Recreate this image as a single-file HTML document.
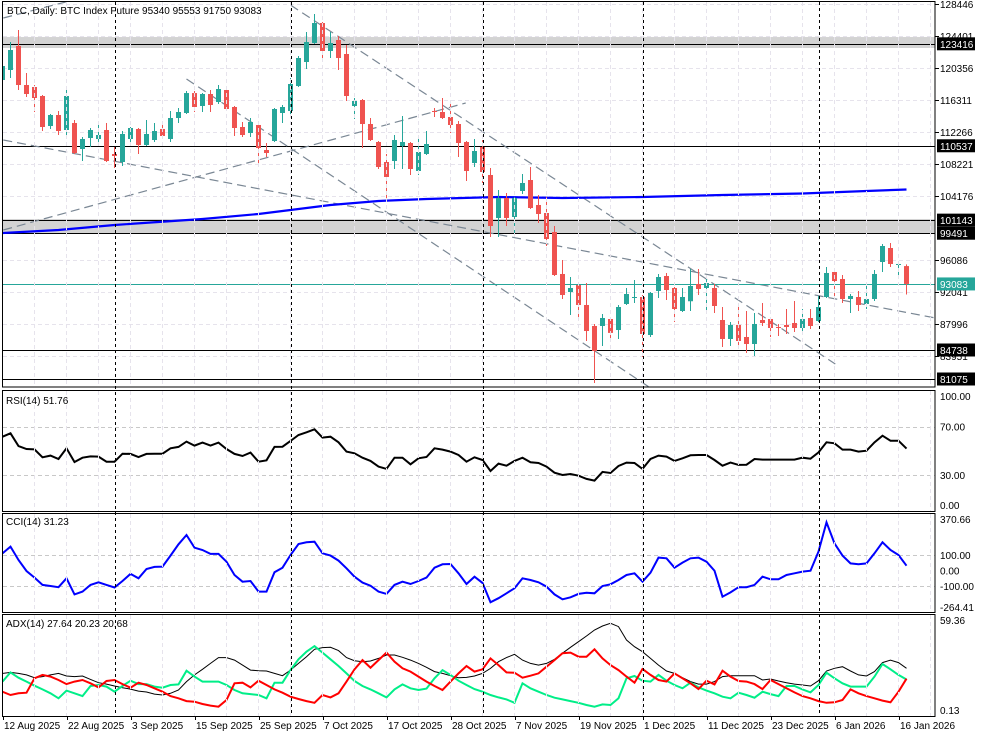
<!DOCTYPE html>
<html><head><meta charset="utf-8"><title>BTC Daily</title>
<style>
html,body{margin:0;padding:0;background:#fff;}
#wrap{position:relative;width:983px;height:737px;overflow:hidden;}
svg text{font-family:"Liberation Sans",sans-serif;font-size:10px;}
</style></head>
<body>
<div id="wrap">
<svg id="chart" width="983" height="737" viewBox="0 0 983 737" xmlns="http://www.w3.org/2000/svg"></svg>
</div>
<script>
const opens=[118845,120109,123140,118213,117961,116824,113034,114424,112529,113414,110129,111519,111392,112529,109498,108487,111392,112656,110635,111266,112656,111392,114045,114677,117198,115561,117077,116066,117582,115435,112908,112150,113161,110003,111140,114677,114930,118087,121119,123519,126045,122509,123898,122130,115561,116319,113287,111014,108487,108613,110508,110887,107350,109498,114930,114803,114172,113287,111014,108361,110382,106845,101414,103940,101540,104824,106213,103056,102045,99645,94340,92066,92950,90424,87771,87771,88655,87265,90550,91308,91434,86634,92192,94087,92571,89666,90897,93076,92571,92571,88529,86129,87902,86381,85497,88529,88655,87645,87898,88150,87518,88782,88403,91434,94592,93708,91182,91434,90550,91182,95855,97624,95476,95340];
const highs=[120867,123645,125161,119730,118213,116950,114551,114930,117582,113793,111645,112782,113540,113414,110382,112403,112908,112782,113793,113414,113666,114930,115308,117456,117456,117198,117582,118213,117708,115561,113540,114045,113287,110887,115308,115687,119098,121877,124908,127183,126172,124908,124403,123267,116572,116446,114045,111140,109498,111898,114298,111014,111519,112403,115308,116572,116319,113666,111140,111392,111266,107730,104950,104571,104066,106971,107856,104319,104066,100402,96108,93960,93203,93203,88024,89287,88908,90424,92571,93581,91687,92066,94340,94466,92697,92571,94971,94971,93960,93076,90171,88276,90676,89666,89413,90676,88655,88024,89918,90929,89918,89918,91561,95224,94845,94213,91813,92192,92824,94845,98129,98255,95982,95553];
const lows=[118592,119098,117582,116698,114803,112403,112656,111898,111645,109498,108613,110382,110887,108487,107730,107982,110887,109498,110508,111014,111645,111014,113414,114551,114803,114803,114803,115813,114930,111771,111645,111645,108361,109119,111014,113414,114424,117961,120235,123393,121245,121624,120109,116193,113919,110256,111140,107603,103687,107603,107603,106845,106845,109372,114172,113919,112150,109119,106087,107856,105834,99013,99013,100402,99392,104445,102550,100782,97876,94087,91182,89160,88403,85876,80571,85245,86002,86129,90424,90676,83855,86381,91308,91055,88276,89540,89666,91687,89287,89413,85118,85245,85245,84360,83981,87771,86381,86508,86760,87013,86886,87392,88276,91308,91182,90676,89413,89666,89918,90929,94592,95224,94213,91750];
const closes=[120614,122635,118213,117077,116572,112908,114424,112403,116824,109624,111392,112529,111898,108613,109245,112024,112782,110635,112024,112403,111771,114045,114803,117198,115435,117077,115687,117708,115182,112782,111898,113540,110256,109624,115182,115435,118340,121624,123645,126045,122509,123519,121624,116824,116193,113287,111266,107856,106592,111266,111014,107603,109750,110761,114803,114045,113161,110887,107350,109877,107224,100402,103940,101414,103940,105834,102676,101919,98760,94213,91687,92571,90424,87139,84613,88782,86897,90171,91813,91434,86760,91940,93960,92318,89918,91434,92824,92445,93203,90297,86129,87902,85876,85497,88024,88150,87518,87518,87645,87518,88655,87771,90171,94466,93455,91182,91561,90424,91182,94340,97876,95603,95603,93083];
const maBars=[0,7,14,25,32,36,41,47,53,62,70,80,90,100,108,113];
const maValues=[99523,99897,100530,101290,101921,102424,103056,103560,103813,104066,103940,104066,104319,104508,104824,105013];
const rsiValues=[61.7,64.5,54.0,51.5,51.2,44.6,46.0,43.2,52.1,40.7,44.3,45.4,45.2,41.0,41.0,47.6,47.4,44.9,47.4,47.6,47.6,52.1,53.2,57.6,54.3,56.8,54.3,56.8,51.5,47.4,45.7,48.5,41.0,42.1,53.2,53.4,58.1,63.1,65.3,67.8,60.9,61.7,57.0,49.3,47.9,44.3,41.6,36.9,35.0,44.3,44.3,38.8,43.8,44.9,52.1,51.0,49.3,46.5,41.0,44.6,42.4,33.3,39.4,37.7,41.6,44.3,40.5,39.9,36.9,31.9,30.0,30.8,29.4,26.7,25.3,32.5,31.6,37.4,40.2,39.9,35.0,43.2,46.0,45.2,41.6,43.8,46.3,46.5,46.5,42.4,37.7,40.2,38.3,38.5,43.2,42.7,42.7,42.7,42.7,42.7,44.3,43.5,48.7,57.0,56.2,51.0,51.0,49.3,50.1,57.0,62.5,58.4,58.4,51.8];
const cciValues=[111,154,68,-3,-46,-93,-100,-108,-50,-154,-136,-93,-76,-93,-110,-68,-22,-50,10,23,25,96,169,229,147,132,107,107,57,-29,-72,-68,-136,-136,-11,18,100,171,182,186,111,96,64,14,-40,-78,-98,-136,-151,-93,-72,-87,-68,-46,18,40,42,-18,-87,-40,-80,-205,-179,-147,-115,-50,-61,-76,-104,-154,-186,-173,-151,-143,-147,-100,-89,-61,-29,-18,-72,-14,83,79,18,51,79,83,57,-1,-169,-141,-108,-108,-93,-40,-57,-57,-29,-18,-7,-1,122,311,175,96,46,40,46,111,182,132,100,31];
const adxValues=[24.2,24.9,24.2,23.2,21.4,22.1,23.2,24.2,22.5,22.1,22.5,20.3,18.1,17.2,15.9,14.8,13.9,12.6,12.0,10.6,10.0,11.1,13.3,18.8,23.2,26.9,30.8,34.6,34.6,33.0,29.7,26.4,26.0,25.8,24.2,22.7,26.4,30.8,35.2,40.1,41.2,41.4,39.2,34.6,32.6,31.9,32.4,34.1,36.3,36.3,34.8,33.0,30.8,28.2,25.4,24.2,22.7,21.4,21.6,22.5,24.2,27.5,31.9,34.6,36.8,33.0,30.8,29.7,30.8,33.5,37.5,41.4,45.1,48.8,52.8,55.4,57.2,55.0,46.2,41.8,38.5,34.1,29.7,25.8,24.2,21.4,18.8,17.2,17.2,18.8,22.1,22.7,22.7,22.7,22.7,19.9,20.5,19.2,18.1,17.2,16.6,15.9,19.4,25.8,27.6,28.6,25.8,23.2,22.5,25.4,31.3,33.0,31.3,27.6];
const plusDiValues=[18.8,24.9,21.4,18.8,16.1,13.7,11.1,7.8,12.9,11.1,9.3,15.9,16.6,15.5,12.2,15.9,19.4,17.2,17.2,15.5,14.8,16.6,17.0,26.0,22.1,18.8,18.8,18.8,16.6,13.3,11.1,10.6,10.0,7.8,18.1,18.1,26.4,33.5,38.5,42.2,37.9,33.5,29.1,24.2,19.2,15.9,13.7,11.1,8.4,13.7,17.0,14.4,13.3,14.2,21.0,26.4,23.2,19.4,16.6,13.9,12.2,10.0,8.4,7.1,4.9,17.7,14.4,12.2,10.0,8.2,7.1,6.0,4.9,3.4,2.3,3.8,3.4,7.8,21.0,22.5,19.4,18.8,23.2,19.4,16.6,14.4,18.1,15.0,12.9,11.1,8.9,7.8,11.5,10.0,8.2,12.2,10.6,9.3,15.9,15.9,13.7,11.7,16.6,24.7,21.0,17.7,15.5,15.5,15.5,22.1,30.4,26.9,23.2,20.2];
const minusDiValues=[12.2,10.0,11.1,11.5,21.0,23.2,22.1,19.9,17.2,18.8,19.9,17.7,15.0,19.2,19.9,17.2,14.8,18.1,16.6,14.4,12.2,9.3,7.8,6.0,5.6,4.1,3.0,2.3,6.7,17.7,18.1,15.0,19.4,16.6,13.7,11.5,8.9,7.4,6.0,4.9,10.0,8.4,11.1,18.8,26.9,33.0,28.0,33.0,37.9,31.9,27.6,25.4,22.1,18.8,15.9,13.3,18.8,24.2,29.1,25.4,26.9,34.1,29.7,24.9,24.7,21.4,22.7,24.2,28.6,33.0,37.5,37.9,35.2,35.2,40.1,34.1,29.7,26.4,22.1,18.1,27.1,23.2,19.9,18.8,24.2,21.0,17.7,13.9,19.4,17.0,26.0,22.1,19.2,18.8,17.2,13.9,19.9,17.2,14.4,11.7,9.3,7.8,6.0,4.9,5.2,6.7,13.7,11.1,9.3,7.8,6.3,5.2,12.2,20.7];
const priceTicks=[128446,124401,120356,116311,112266,108221,104176,96086,92041,87996,83951];
const levelLines=[123416,110537,101143,99491,84738,81075];
const bandTops=[124272,101290];
const bandBottoms=[122888,99523];
const lastPrice=93083;
const trendStartBar=[36,23,0.1,0.1,0.1];
const trendStartPrice=[128320,118971,111266,99897,126678];
const trendEndBar=[104.1,81,116.6,57.9,7.9];
const trendEndPrice=[82970,79940,88782,115940,128700];
const dateLabels=["12 Aug 2025","22 Aug 2025","3 Sep 2025","15 Sep 2025","25 Sep 2025","7 Oct 2025","17 Oct 2025","28 Oct 2025","7 Nov 2025","19 Nov 2025","1 Dec 2025","11 Dec 2025","23 Dec 2025","6 Jan 2026","16 Jan 2026"];
const dateBars=[0,8,16,24,32,40,48,56,64,72,80,88,96,104,112];
const monthStartBars=[14,36,60,80,102];
const rsiTicks=[100,70,30,0];
const cciTicks=[370.66,100,0,-100,-264.41];
const adxTicks=[59.36,0.13];

const NS="http://www.w3.org/2000/svg";
const svg=document.getElementById('chart');
const AXIS_X=935;
function xOf(i){return 2.5+8*i;}
function yP(p){return 4+(128446-p)*375/47371;}
function yR(v){return 511.2-v*1.208;}
function yC(v){return 570.5-v*0.155;}
function yA(v){return 710-(v-0.13)*1.5195;}
function mk(tag,attrs,parent){const e=document.createElementNS(NS,tag);for(const k in attrs)e.setAttribute(k,attrs[k]);(parent||svg).appendChild(e);return e;}

const defs=mk('defs',{});
[['cmain',3,2,932,385],['crsi',3,391,932,120],['ccci',3,514,932,98],['cadx',3,615,932,101]].forEach(c=>{const cp=mk('clipPath',{id:c[0]},defs);mk('rect',{x:c[1],y:c[2],width:c[3],height:c[4]},cp);});

const gMain=mk('g',{'clip-path':'url(#cmain)'});


const gRsi=mk('g',{'clip-path':'url(#crsi)'});


const gCci=mk('g',{'clip-path':'url(#ccci)'});


const gAdx=mk('g',{'clip-path':'url(#cadx)'});



for(let x=2+32;x<AXIS_X;x+=32){
  [[2,387],[391,511],[514,612],[615,716]].forEach(r=>{
    const l=mk('line',{x1:x+0.5,x2:x+0.5,y1:r[0],y2:r[1],stroke:'#e6e3ec','stroke-dasharray':'4,3'});
    
    
  });
}
priceTicks.forEach(p=>{
  const l=mk('line',{x1:3,x2:AXIS_X,y1:Math.round(yP(p))+0.5,y2:Math.round(yP(p))+0.5,stroke:'#e6e3ec','stroke-dasharray':'4,3'},gMain);
  
  
});
bandTops.forEach((t,k)=>{
  const r=mk('rect',{x:3,y:yP(t),width:AXIS_X-3,height:yP(bandBottoms[k])-yP(t),fill:'#d3d3d3'},gMain);
  
  
});
levelLines.forEach(p=>{
  const y=Math.round(yP(p))+0.5;
  const l=mk('line',{x1:3,x2:AXIS_X,y1:y,y2:y,stroke:'#000','stroke-width':1},gMain);
  
  
});
trendStartBar.forEach((b,k)=>{
  const l=mk('line',{x1:xOf(b),y1:yP(trendStartPrice[k]),x2:xOf(trendEndBar[k]),y2:yP(trendEndPrice[k]),stroke:'#7a8794','stroke-width':1.2,'stroke-dasharray':'9,5'},gMain);
  
  
});
{
  const pts=maBars.map((b,k)=>xOf(b)+','+yP(maValues[k]).toFixed(1)).join(' ');
  const l=mk('polyline',{points:pts,fill:'none',stroke:'#0000ff','stroke-width':2.2},gMain);
  
  
}
{
  const y=Math.round(yP(lastPrice))+0.5;
  const l=mk('line',{x1:3,x2:AXIS_X,y1:y,y2:y,stroke:'#26a69a'},gMain);
  
  
}
opens.forEach((o,i)=>{
  const c=closes[i],h=highs[i],lo=lows[i];
  const col=c>=o?'#26a69a':'#ef5350';
  const x=xOf(i);
  const g=mk('g',{},gMain);
  
  
  mk('line',{x1:x,x2:x,y1:yP(h),y2:yP(lo),stroke:col,'stroke-width':1},g);
  const t=yP(Math.max(o,c)),b=yP(Math.min(o,c));
  mk('rect',{x:x-2.5,y:t,width:5,height:Math.max(1,b-t),fill:col},g);
});
monthStartBars.forEach(b=>{
  const l=mk('line',{x1:Math.round(xOf(b))+0.5,x2:Math.round(xOf(b))+0.5,y1:2,y2:716,stroke:'#000','stroke-dasharray':'3,3'});
  
  
});
[70,30].forEach(v=>{const l=mk('line',{x1:3,x2:AXIS_X,y1:Math.round(yR(v))+0.5,y2:Math.round(yR(v))+0.5,stroke:'#c8c8c8','stroke-dasharray':'4,3'},gRsi);
  
  });
{
  const l=mk('polyline',{points:rsiValues.map((v,i)=>xOf(i)+','+yR(v).toFixed(1)).join(' '),fill:'none',stroke:'#000','stroke-width':2},gRsi);
  
  
}
[100,-100].forEach(v=>{const l=mk('line',{x1:3,x2:AXIS_X,y1:Math.round(yC(v))+0.5,y2:Math.round(yC(v))+0.5,stroke:'#c8c8c8','stroke-dasharray':'4,3'},gCci);
  
  });
{
  const l=mk('polyline',{points:cciValues.map((v,i)=>xOf(i)+','+yC(v).toFixed(1)).join(' '),fill:'none',stroke:'#0000ff','stroke-width':2},gCci);
  
  
}
{
  const a=mk('polyline',{points:adxValues.map((v,i)=>xOf(i)+','+yA(v).toFixed(1)).join(' '),fill:'none',stroke:'#000','stroke-width':1},gAdx);
  
  
  const p=mk('polyline',{points:plusDiValues.map((v,i)=>xOf(i)+','+yA(v).toFixed(1)).join(' '),fill:'none',stroke:'#00ee88','stroke-width':2},gAdx);
  
  
  const m=mk('polyline',{points:minusDiValues.map((v,i)=>xOf(i)+','+yA(v).toFixed(1)).join(' '),fill:'none',stroke:'#ff0000','stroke-width':2},gAdx);
  
  
}
[[2.5,1.5,387],[2.5,390.5,511.5],[2.5,513.5,612.5],[2.5,614.5,716.5]].forEach(f=>{
  const r=mk('rect',{x:f[0],y:f[1],width:AXIS_X-f[0],height:f[2]-f[1],fill:'none',stroke:'#000','stroke-width':1});
  
  
});
function txt(x,y,s,name,attrs){const t=mk('text',Object.assign({x:x,y:y,fill:'#000'},attrs||{}));t.textContent=s;
  
  
  return t;}
txt(7,14,'BTC, Daily:  BTC Index Future  95340 95553 91750 93083','chart-title');
txt(6,404,'RSI(14) 51.76','rsi-title');
txt(6,525,'CCI(14) 31.23','cci-title');
txt(6,627,'ADX(14) 27.64 20.23 20.68','adx-title');
priceTicks.forEach(p=>{
  const y=yP(p);
  mk('line',{x1:AXIS_X,x2:AXIS_X+4,y1:Math.round(y)+0.5,y2:Math.round(y)+0.5,stroke:'#000'});
  txt(940,y+4,String(p),'price-tick-label');
});
levelLines.forEach(p=>{
  const y=yP(p);
  const r=mk('rect',{x:937,y:y-6.5,width:38,height:13,fill:'#000'});
  
  
  txt(940,y+4,String(p),'level-price-label',{fill:'#fff'});
});
{
  const y=yP(lastPrice);
  const r=mk('rect',{x:937,y:y-6.5,width:38,height:13,fill:'#26a69a'});
  
  
  txt(940,y+4,String(lastPrice),'last-price-label',{fill:'#fff'});
}
rsiTicks.forEach(v=>{const y=Math.min(505,Math.max(396,yR(v)));txt(940,y+4,v.toFixed(2),'rsi-tick-label');});
cciTicks.forEach(v=>{const y=Math.min(607,Math.max(519,yC(v)));txt(940,y+4,v.toFixed(2),'cci-tick-label');});
adxTicks.forEach(v=>{txt(940,yA(v)+4,v.toFixed(2),'adx-tick-label');});
dateBars.forEach((b,k)=>{
  const x=Math.round(xOf(b))+0.5;
  mk('line',{x1:x,x2:x,y1:716,y2:720,stroke:'#000'});
  txt(x+0.5,729,dateLabels[k],'date-label');
});
</script>
</body></html>
